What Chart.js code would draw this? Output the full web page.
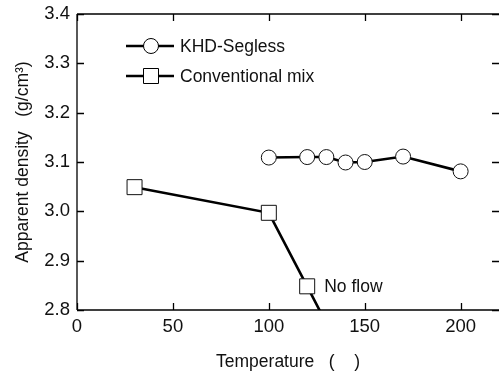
<!DOCTYPE html>
<html>
<head>
<meta charset="utf-8">
<script src="https://cdn.jsdelivr.net/npm/chart.js@4/dist/chart.umd.min.js"></script>
<style>
  html, body { margin: 0; padding: 0; background: #fff; overflow: hidden; }
  #wrap { width: 499px; height: 373px; position: relative; }
</style>
</head>
<body>
<div id="wrap"><canvas id="c"></canvas></div>
<script>
// ---- data ----
const khdTemps = [100, 120, 130, 140, 150, 170, 200];
const khdDensity = [3.109, 3.110, 3.110, 3.099, 3.100, 3.111, 3.081];
const convTemps = [30, 100, 120, 130];
const convDensity = [3.049, 2.997, 2.848, 2.773];
const convMarker = [true, true, true, false]; // last point only continues the line (below axis)
const xTicks = [0, 50, 100, 150, 200];
const yTicks = [2.8, 2.9, 3.0, 3.1, 3.2, 3.3, 3.4];
const seriesNames = ['KHD-Segless', 'Conventional mix'];
const noFlowLabel = 'No flow';
const xTitle = 'Temperature   (    )';
const yTitle = 'Apparent density   (g/cm\u00B3)';

const FONT = '"Liberation Sans", Arial, sans-serif';

const framePlugin = {
  id: 'frame',
  afterDatasetsDraw(chart) {
    const {ctx, chartArea: a, scales: {x, y}} = chart;
    ctx.save();
    ctx.strokeStyle = '#000';
    ctx.lineWidth = 1.3;
    ctx.beginPath();
    ctx.moveTo(a.left, a.top); ctx.lineTo(a.right, a.top);
    ctx.moveTo(a.left, a.top); ctx.lineTo(a.left, a.bottom);
    ctx.moveTo(a.left, a.bottom); ctx.lineTo(a.right, a.bottom);
    const tl = 7;
    xTicks.forEach(v => {
      const px = Math.round(x.getPixelForValue(v)) + 0.5;
      ctx.moveTo(px, a.bottom); ctx.lineTo(px, a.bottom - tl);
      ctx.moveTo(px, a.top); ctx.lineTo(px, a.top + tl);
    });
    yTicks.forEach(v => {
      const py = Math.round(y.getPixelForValue(v)) + 0.5;
      ctx.moveTo(a.left, py); ctx.lineTo(a.left + tl, py);
      ctx.moveTo(a.right, py); ctx.lineTo(a.right - tl, py);
    });
    ctx.stroke();

    // "No flow" annotation next to the 120 point
    const meta = chart.getDatasetMeta(1);
    const p = meta.data[2];
    ctx.fillStyle = '#111';
    ctx.font = '17.5px ' + FONT;
    ctx.textBaseline = 'middle';
    ctx.textAlign = 'left';
    ctx.fillText(noFlowLabel, p.x + 17, p.y + 1);

    // legend
    const rows = [{y: 46, style: 'circle'}, {y: 76, style: 'rect'}];
    rows.forEach((r, i) => {
      ctx.strokeStyle = '#000';
      ctx.lineWidth = 2.6;
      ctx.beginPath();
      ctx.moveTo(126, r.y); ctx.lineTo(174, r.y);
      ctx.stroke();
      ctx.lineWidth = 1;
      ctx.fillStyle = '#fff';
      ctx.beginPath();
      if (r.style === 'circle') {
        ctx.arc(151, r.y, 7.5, 0, Math.PI * 2);
      } else {
        ctx.rect(143.5, r.y - 7.5, 15, 15);
      }
      ctx.fill();
      ctx.stroke();
      ctx.fillStyle = '#111';
      ctx.fillText(seriesNames[i], 180, r.y + 1);
    });
    ctx.restore();
  }
};

new Chart(document.getElementById('c'), {
  type: 'scatter',
  data: {
    datasets: [
      {
        label: seriesNames[0],
        data: khdTemps.map((t, i) => ({x: t, y: khdDensity[i]})),
        showLine: true,
        borderColor: '#000',
        borderWidth: 2.6,
        pointStyle: 'circle',
        pointRadius: 7.5,
        pointBorderWidth: 1,
        pointBorderColor: '#111',
        pointBackgroundColor: '#fff',
        clip: 0
      },
      {
        label: seriesNames[1],
        data: convTemps.map((t, i) => ({x: t, y: convDensity[i]})),
        showLine: true,
        borderColor: '#000',
        borderWidth: 2.6,
        pointStyle: 'rect',
        pointRadius: convMarker.map(m => m ? 10.6 : 0),
        pointBorderWidth: 1,
        pointBorderColor: '#111',
        pointBackgroundColor: '#fff',
        clip: 0
      }
    ]
  },
  options: {
    responsive: true,
    maintainAspectRatio: false,
    animation: false,
    devicePixelRatio: 1,
    layout: { autoPadding: false, padding: { top: 14, right: 0, left: 0, bottom: 0 } },
    plugins: { legend: { display: false }, tooltip: { enabled: false } },
    scales: {
      x: {
        type: 'linear',
        min: 0, max: 220,
        afterBuildTicks: s => { s.ticks = xTicks.map(v => ({value: v})); },
        afterFit: s => { s.height = 63; s.paddingLeft = 0; s.paddingRight = 0; },
        grid: { display: false, drawTicks: false },
        border: { display: false },
        ticks: { color: '#111', padding: 6, font: { family: FONT, size: 18.5 }, maxRotation: 0,
                 callback: v => String(v) },
        title: { display: true, text: xTitle, color: '#111', font: { family: FONT, size: 17.5 },
                 padding: { top: 0, bottom: 0.5 } }
      },
      y: {
        type: 'linear',
        min: 2.8, max: 3.4,
        afterBuildTicks: s => { s.ticks = yTicks.map(v => ({value: v})); },
        afterFit: s => { s.width = 77; s.paddingTop = 0; s.paddingBottom = 0; },
        grid: { display: false, drawTicks: false },
        border: { display: false },
        ticks: { color: '#111', padding: 7, font: { family: FONT, size: 18.5 },
                 callback: v => Number(v).toFixed(1) },
        title: { display: true, text: yTitle, color: '#111', font: { family: FONT, size: 17.5 },
                 padding: { top: 13, bottom: 0 } }
      }
    }
  },
  plugins: [framePlugin]
});
</script>
</body>
</html>
